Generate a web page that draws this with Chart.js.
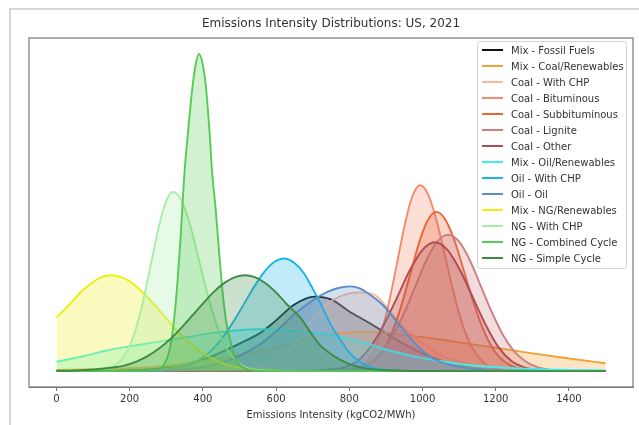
<!DOCTYPE html>
<html>
<head>
<meta charset="utf-8">
<script src="https://cdn.jsdelivr.net/npm/chart.js@4"></script>
<style>
  html, body { margin:0; padding:0; background:#fff; }
  #wrap { position:relative; width:639px; height:425px; overflow:hidden; }
  #figborder { position:absolute; left:9px; top:8px; right:-5px; bottom:-5px; border-left:2px solid #d6d6d6; border-top:2px solid #d6d6d6; }
  canvas { position:absolute; left:0; top:0; }
  #legend { position:absolute; left:477px; top:41px; width:150px; height:228px; border:1px solid #d4d4d4; border-radius:3px; background:rgba(255,255,255,0.85); font-family:'DejaVu Sans', sans-serif; font-size:10px; color:#333; box-sizing:border-box; padding-top:0px; }
  .row { height:16px; display:flex; align-items:center; white-space:nowrap; }
  .swatch { width:21px; height:2px; margin-left:4px; margin-right:8px; }
</style>
</head>
<body>
<div id="wrap">
  <div id="figborder"></div>
  <canvas id="c" width="639" height="425"></canvas>
  <div id="legend"></div>
</div>
<script>
// ---- data (x: kgCO2/MWh, y: relative density) ----
const chartTitle = 'Emissions Intensity Distributions: US, 2021';
const xAxisTitle = 'Emissions Intensity (kgCO2/MWh)';
const xTicks = [0, 200, 400, 600, 800, 1000, 1200, 1400];

const seriesNames = [
  'Mix - Fossil Fuels', 'Mix - Coal/Renewables', 'Coal - With CHP', 'Coal - Bituminous',
  'Coal - Subbituminous', 'Coal - Lignite', 'Coal - Other', 'Mix - Oil/Renewables',
  'Oil - With CHP', 'Oil - Oil', 'Mix - NG/Renewables', 'NG - With CHP',
  'NG - Combined Cycle', 'NG - Simple Cycle'
];

const mixFossilFuels = [[0,0],[150,0.2],[250,0.7],[320,1.5],[410,4.0],[500,8.7],[560,12.3],[600,16.0],[650,21.0],[705,23.5],[750,22.6],[800,18.8],[850,15.5],[900,12.0],[950,8.5],[1000,5.6],[1075,2.5],[1130,1.2],[1200,0.6]];
const mixCoalRenewables = [[0,0.4],[100,0.6],[200,0.9],[300,1.6],[365,2.5],[430,3.7],[500,5.1],[570,6.7],[640,8.6],[700,10.6],[760,11.8],[850,12.4],[940,11.5],[1030,10.3],[1120,8.7],[1210,7.2],[1300,5.6],[1400,4.0],[1500,2.5]];
const coalWithChp = [[0,0],[400,0.1],[500,0.5],[550,1.3],[600,3.5],[650,8.5],[700,16.5],[750,22.0],[800,24.5],[830,24.8],[870,24.0],[920,17.5],[950,13.5],[1000,9.0],[1050,5.0],[1100,3.0],[1150,1.6],[1200,0.8],[1300,0.2],[1500,0]];
const coalBituminous = [[0,0],[700,0],[780,0.1],[820,0.9],[850,3.4],[870,7.2],[890,13.4],[910,22.5],[930,33.8],[950,45.3],[970,54.4],[993,58.6],[1015,55.8],[1040,46.8],[1060,37.1],[1080,27.1],[1100,18.2],[1120,11.3],[1140,6.5],[1170,2.4],[1200,0.7],[1250,0.1],[1500,0]];
const coalSubbituminous = [[0,0],[750,0],[800,0.2],[840,1.1],[870,3.3],[895,7.0],[915,11.7],[935,18.0],[955,25.8],[975,34.2],[995,42.0],[1015,47.7],[1038,50.2],[1060,48.2],[1085,41.9],[1110,32.8],[1135,23.2],[1160,14.8],[1185,8.5],[1210,4.4],[1240,1.8],[1280,0.4],[1330,0.05],[1500,0]];
const coalLignite = [[0,0],[700,0],[750,0.1],[790,0.4],[830,1.4],[860,3.2],[890,6.3],[920,11.4],[950,18.4],[980,26.6],[1010,34.8],[1040,40.8],[1070,43.0],[1100,40.8],[1130,34.8],[1160,26.6],[1190,18.4],[1220,11.4],[1250,6.3],[1280,3.2],[1310,1.4],[1350,0.4],[1400,0.1],[1500,0]];
const coalOther = [[0,0],[650,0],[700,0.1],[750,0.5],[790,1.3],[825,3.4],[860,8.0],[895,14.8],[930,23.1],[965,31.7],[1000,38.2],[1034,40.6],[1068,38.2],[1103,31.7],[1138,23.1],[1173,14.5],[1208,7.5],[1243,3.2],[1278,1.2],[1320,0.4],[1370,0.1],[1500,0]];
const mixOilRenewables = [[0,3.0],[70,4.6],[140,6.6],[210,8.0],[280,9.3],[350,10.6],[420,11.9],[490,12.8],[550,13.2],[610,13.0],[670,12.4],[730,11.8],[790,10.4],[850,8.6],[910,6.5],[970,4.8],[1030,3.5],[1120,2.0],[1210,1.2],[1300,0.7],[1400,0.4],[1500,0.2]];
const oilWithChp = [[0,0],[200,0],[250,0.1],[300,0.4],[345,1.3],[380,2.9],[410,5.2],[440,8.6],[470,13.2],[495,17.8],[520,22.7],[545,27.5],[570,31.6],[595,34.4],[622,35.5],[650,34.1],[675,31.0],[700,26.0],[725,20.5],[750,14.5],[775,10.0],[800,5.8],[825,3.3],[850,1.6],[880,0.7],[920,0.2],[1000,0],[1500,0]];
const oilOil = [[0,0],[200,0.05],[300,0.2],[350,0.6],[400,1.3],[450,2.6],[500,4.8],[550,8.0],[600,12.5],[650,17.9],[700,22.3],[740,25.0],[770,26.2],[802,26.7],[830,26.0],[860,23.8],[893,20.7],[938,14.4],[984,8.2],[1029,4.0],[1060,2.5],[1093,1.5],[1150,0.5],[1250,0.1],[1500,0]];
const mixNgRenewables = [[0,17.0],[25,19.7],[50,22.9],[75,25.8],[100,28.1],[125,29.7],[151,30.2],[175,29.7],[200,28.3],[225,26.0],[250,23.2],[275,19.9],[300,16.6],[325,13.3],[350,10.4],[375,7.8],[400,5.7],[430,3.7],[460,2.3],[500,1.1],[550,0.4],[600,0.1],[700,0]];
const ngWithChp = [[0,0],[100,0.1],[130,0.4],[155,1.4],[180,3.9],[205,9.3],[230,18.8],[255,32.0],[280,45.7],[300,53.7],[319,56.5],[340,54.1],[365,46.1],[390,34.7],[415,23.2],[440,13.8],[465,7.2],[490,3.4],[520,1.1],[560,0.2],[600,0],[1500,0]];
const ngCombinedCycle = [[0,0],[260,0.2],[290,1.5],[305,5.0],[315,10.3],[326,21.7],[339,42.0],[350,63.0],[360,76.0],[370,88.0],[380,96.5],[389,100],[398,97.5],[408,90.0],[419,74.0],[425,63.0],[435,51.0],[444,38.0],[453,26.0],[463,16.0],[474,10.0],[485,5.0],[500,2.0],[520,0.6],[560,0],[1500,0]];
const ngSimpleCycle = [[0,0.1],[50,0.2],[100,0.5],[140,1.0],[180,1.6],[220,3.1],[250,4.8],[280,7.1],[310,10.0],[340,13.5],[370,17.4],[400,21.3],[430,25.0],[460,27.9],[490,29.7],[515,30.2],[540,29.7],[570,27.8],[600,24.8],[630,21.0],[665,17.0],[700,11.2],[720,8.2],[760,4.6],[800,2.2],[850,0.8],[900,0.3],[1000,0.05],[1500,0]];

const seriesValues = [mixFossilFuels, mixCoalRenewables, coalWithChp, coalBituminous,
  coalSubbituminous, coalLignite, coalOther, mixOilRenewables, oilWithChp, oilOil,
  mixNgRenewables, ngWithChp, ngCombinedCycle, ngSimpleCycle];

// ---- styles ----
const seriesColors = ['#111111','#f5a030','#fbb9a0','#f28a6c','#eb6535','#cf7f82','#b34a52',
  '#3ef0ee','#1cb4e8','#5b8ec4','#eeee10','#a8eca8','#55cc55','#3d8b45'];

function hexA(hex, a) {
  const r = parseInt(hex.slice(1,3),16), g = parseInt(hex.slice(3,5),16), b = parseInt(hex.slice(5,7),16);
  return `rgba(${r},${g},${b},${a})`;
}

const N = seriesNames.length;
const datasets = seriesNames.map((name, i) => ({
  label: name,
  data: seriesValues[i].map(p => ({x: p[0], y: p[1]})),
  borderColor: seriesColors[i],
  backgroundColor: hexA(seriesColors[i], 0.27),
  borderWidth: 1.9,
  pointRadius: 0,
  fill: 'origin',
  cubicInterpolationMode: 'monotone',
  order: N - i
}));

const frame = {
  id: 'frame',
  afterDraw(chart) {
    const {ctx, chartArea: a} = chart;
    ctx.save();
    ctx.strokeStyle = '#777';
    ctx.lineWidth = 1.2;
    ctx.strokeRect(a.left, a.top, a.right - a.left, a.bottom - a.top);
    ctx.restore();
  }
};

Chart.defaults.font.family = "'DejaVu Sans', sans-serif";
Chart.defaults.color = '#333';

new Chart(document.getElementById('c'), {
  type: 'line',
  data: { datasets },
  options: {
    responsive: false,
    devicePixelRatio: 1,
    animation: false,
    layout: { padding: { left: 29, right: 6, top: 0, bottom: 5 } },
    plugins: {
      legend: { display: false },
      tooltip: { enabled: false },
      title: { display: true, text: chartTitle, font: { size: 12, weight: 'normal' }, color: '#333', padding: { top: 17, bottom: 6.6 } }
    },
    scales: {
      x: {
        type: 'linear', min: -75, max: 1575,
        afterBuildTicks: s => { s.ticks = xTicks.map(v => ({ value: v })); },
        ticks: { font: { size: 10, lineHeight: 1 }, padding: 3, color: '#333', maxRotation: 0, callback: v => String(v) },
        grid: { display: true, drawOnChartArea: false, drawTicks: true, tickLength: 4, color: '#777' },
        border: { display: true, color: '#777' },
        title: { display: true, text: xAxisTitle, font: { size: 10, lineHeight: 1 }, color: '#333', padding: { top: 3, bottom: 0 } }
      },
      y: { display: false, min: -5, max: 105 }
    }
  },
  plugins: [frame]
});

// ---- legend (HTML text) ----
const leg = document.getElementById('legend');
seriesNames.forEach((name, i) => {
  const row = document.createElement('div');
  row.className = 'row';
  const sw = document.createElement('span');
  sw.className = 'swatch';
  sw.style.background = seriesColors[i];
  const t = document.createElement('span');
  t.textContent = name;
  row.appendChild(sw); row.appendChild(t);
  leg.appendChild(row);
});
</script>
</body>
</html>
